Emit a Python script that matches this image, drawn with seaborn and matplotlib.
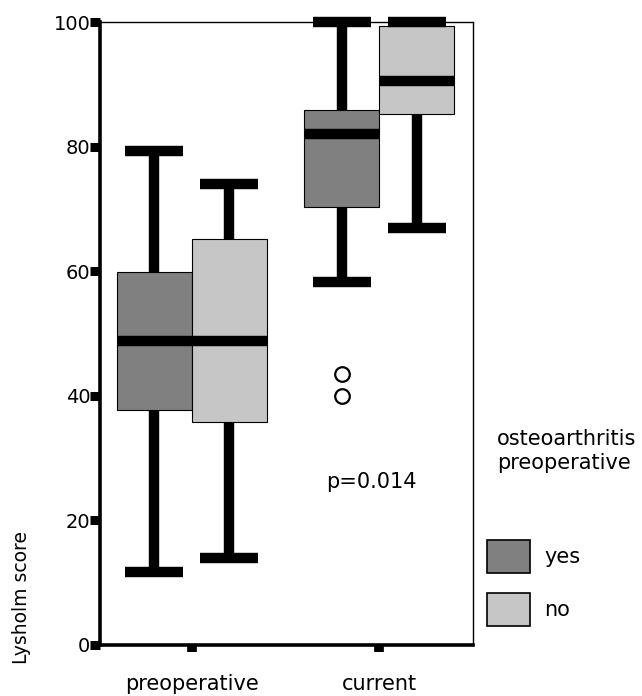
import pandas as pd
import matplotlib
matplotlib.use("Agg")
import matplotlib.pyplot as plt
import matplotlib.patches as mpatches
import seaborn as sns

# --- Data ---
TIMEPOINTS = ['preoperative', 'current']
GROUPS = ['yes', 'no']
Y_TICKS = [0, 20, 40, 60, 80, 100]

# Lysholm scores per subgroup (values chosen so quartiles / whiskers / outliers match the picture)
pre_yes = [11.7, 30.0, 37.7, 44.0, 48.8, 55.0, 59.8, 70.0, 79.3]
pre_no = [14.0, 25.0, 35.8, 42.0, 48.8, 57.0, 65.2, 70.0, 74.0]
cur_yes = [40.0, 43.5, 58.3, 70.3, 74.0, 78.0, 82.0, 84.0, 85.0, 85.9, 92.0, 96.0, 100.0]
cur_no = [67.0, 80.0, 85.2, 88.0, 90.5, 95.0, 99.4, 100.0, 100.0]

P_TEXT = 'p=0.014'

# --- Style ---
COLORS = {'yes': '#808080', 'no': '#c6c6c6'}
THICK = 7.5  # whiskers, caps and medians

rows = []
for time, grp, vals in [('preoperative', 'yes', pre_yes), ('preoperative', 'no', pre_no),
                        ('current', 'yes', cur_yes), ('current', 'no', cur_no)]:
    for v in vals:
        rows.append({'time': time, 'oa': grp, 'score': v})
df = pd.DataFrame(rows)

sns.set_style('ticks')
plt.rcParams['font.family'] = ['DejaVu Sans']
plt.rcParams.update({'text.color': 'black', 'axes.labelcolor': 'black',
                     'xtick.color': 'black', 'ytick.color': 'black',
                     'axes.edgecolor': 'black'})

fig = plt.figure(figsize=(6.42, 6.96), dpi=100)
ax = fig.add_axes([100 / 642, 1 - 645 / 696, 373 / 642, 623 / 696])

sns.boxplot(
    data=df, x='time', y='score', hue='oa',
    order=TIMEPOINTS, hue_order=GROUPS, palette=COLORS,
    width=0.8, gap=0, linecolor='black', linewidth=0.8,
    whiskerprops=dict(linewidth=THICK, solid_capstyle='butt'),
    capprops=dict(linewidth=THICK, solid_capstyle='butt'),
    medianprops=dict(linewidth=THICK, solid_capstyle='butt'),
    flierprops=dict(marker='o', markersize=10.5, markerfacecolor='white',
                    markeredgecolor='black', markeredgewidth=1.6),
    capwidths=0.31, legend=False, ax=ax,
)

for ln in ax.lines:
    ln.set_clip_on(False)
for p in ax.patches:
    p.set_clip_on(False)

ax.set_xlim(-0.49, 1.5)
ax.set_ylim(0, 100)
ax.set_yticks(Y_TICKS)
ax.set_xlabel('')
ax.set_ylabel('')

for side in ['left', 'bottom']:
    ax.spines[side].set_linewidth(2.6)
for side in ['top', 'right']:
    ax.spines[side].set_visible(True)
    ax.spines[side].set_linewidth(1.0)

ax.tick_params(axis='y', direction='out', length=7, width=6.5, color='black',
               labelcolor='black', labelsize=14, pad=0)
ax.tick_params(axis='x', direction='out', length=5, width=7, color='black',
               labelcolor='black', labelsize=15, pad=16)

ax.text(0.727, 0.262, P_TEXT, transform=ax.transAxes, ha='center', va='center', fontsize=15)

fig.text(22 / 642, 1 - 597 / 696, 'Lysholm score', rotation=90,
         ha='center', va='center', fontsize=13.5)

fig.text(497 / 642, 1 - 451 / 696, 'osteoarthritis\npreoperative',
         ha='left', va='center', fontsize=15)

handles = [mpatches.Patch(facecolor=COLORS[g], edgecolor='black', linewidth=1.2, label=g)
           for g in GROUPS]
ax.legend(handles=handles, loc='upper left', bbox_to_anchor=(487 / 642, 1 - 540 / 696),
          bbox_transform=fig.transFigure, frameon=False, fontsize=15,
          handlelength=2.05, handleheight=2.07, handletextpad=0.7,
          labelspacing=0.96, borderpad=0, borderaxespad=0)

fig.savefig('out.png', dpi=100)
